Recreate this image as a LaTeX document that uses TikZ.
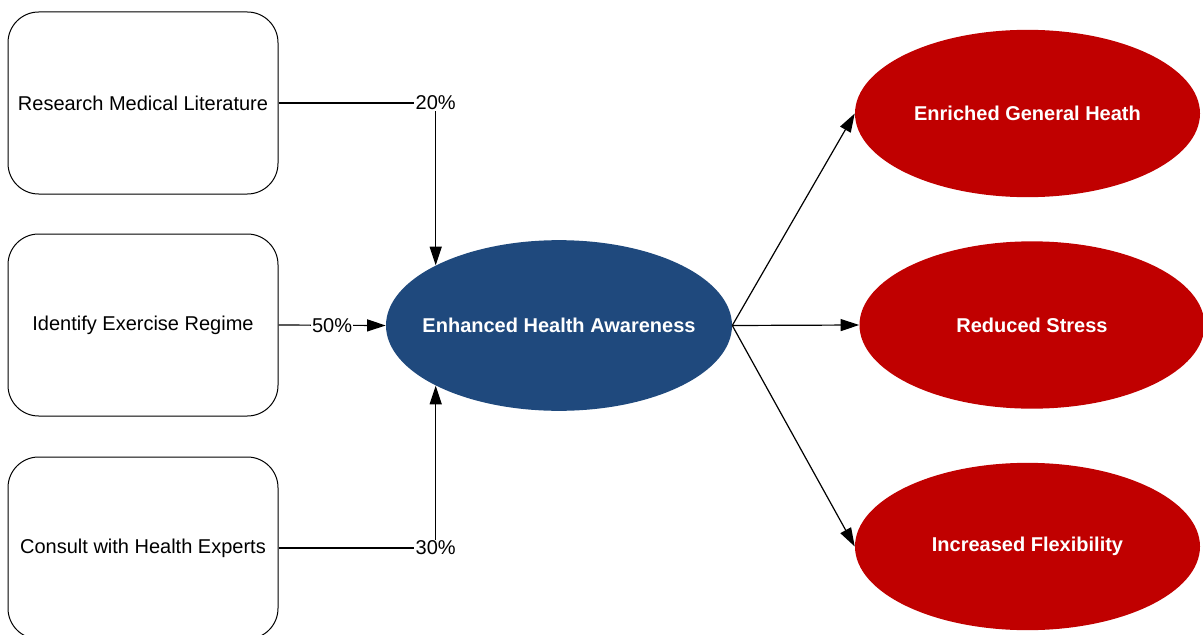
\documentclass[tikz,border=0pt]{standalone}
\usepackage{fontspec}
\setmainfont{Liberation Sans}
\usetikzlibrary{arrows.meta,shapes.geometric}
\definecolor{awareblue}{HTML}{1F497D}
\definecolor{outcomered}{HTML}{C00000}
% zero-width label so the oval keeps its set size
\newcommand{\ovallabel}[1]{\makebox[0pt]{#1}}
\begin{document}
\begin{tikzpicture}[x=0.75pt,y=-0.75pt,
  taskbox/.style={draw=black,line width=0.75pt,rounded corners=23pt,fill=white,
    minimum width=202.5pt,minimum height=136.5pt,inner sep=0pt,
    font=\fontsize{15}{18}\selectfont},
  blueoval/.style={ellipse,fill=awareblue,text=white,inner sep=0pt,
    minimum width=259.5pt,minimum height=128pt,font=\bfseries\fontsize{15}{18}\selectfont},
  redoval/.style={ellipse,fill=outcomered,text=white,inner sep=0pt,
    minimum width=258.75pt,minimum height=125.5pt,font=\bfseries\fontsize{15}{18}\selectfont},
  link/.style={line width=0.9pt,draw=black},
  arrowlink/.style={link,-{Triangle[length=14pt,width=9pt]}},
  pct/.style={fill=white,inner sep=1pt,font=\fontsize{15}{18}\selectfont}]
\useasboundingbox (0,0) rectangle (1203,635);
\begin{scope}
\clip (0,0) rectangle (1203,635);
% input activities
\node[taskbox] (r1) at (143,103) {Research Medical Literature};
\node[taskbox] (r2) at (143,325) {Identify Exercise Regime};
\node[taskbox] (r3) at (143,548) {Consult with Health Experts};
% central outcome
\node[blueoval] (aware) at (559,325.5) {\ovallabel{Enhanced Health Awareness}};
% resulting benefits
\node[redoval] (e1) at (1027.5,113.5) {\ovallabel{Enriched General Heath}};
\node[redoval] (e2) at (1032,325) {\ovallabel{Reduced Stress}};
\node[redoval] (e3) at (1027.5,546.5) {\ovallabel{Increased Flexibility}};
% weighted contributions
\draw[arrowlink] (r1.east) -| node[pct] {20\%} (aware.154);
\draw[arrowlink] (r2.east) -- node[pct] {50\%} (aware.west);
\draw[arrowlink] (r3.east) -| node[pct] {30\%} (aware.206);
% effects
\draw[arrowlink] (aware.east) -- (e1.west);
\draw[arrowlink] (aware.east) -- (e2.west);
\draw[arrowlink] (aware.east) -- (e3.west);
\end{scope}
\end{tikzpicture}
\end{document}
